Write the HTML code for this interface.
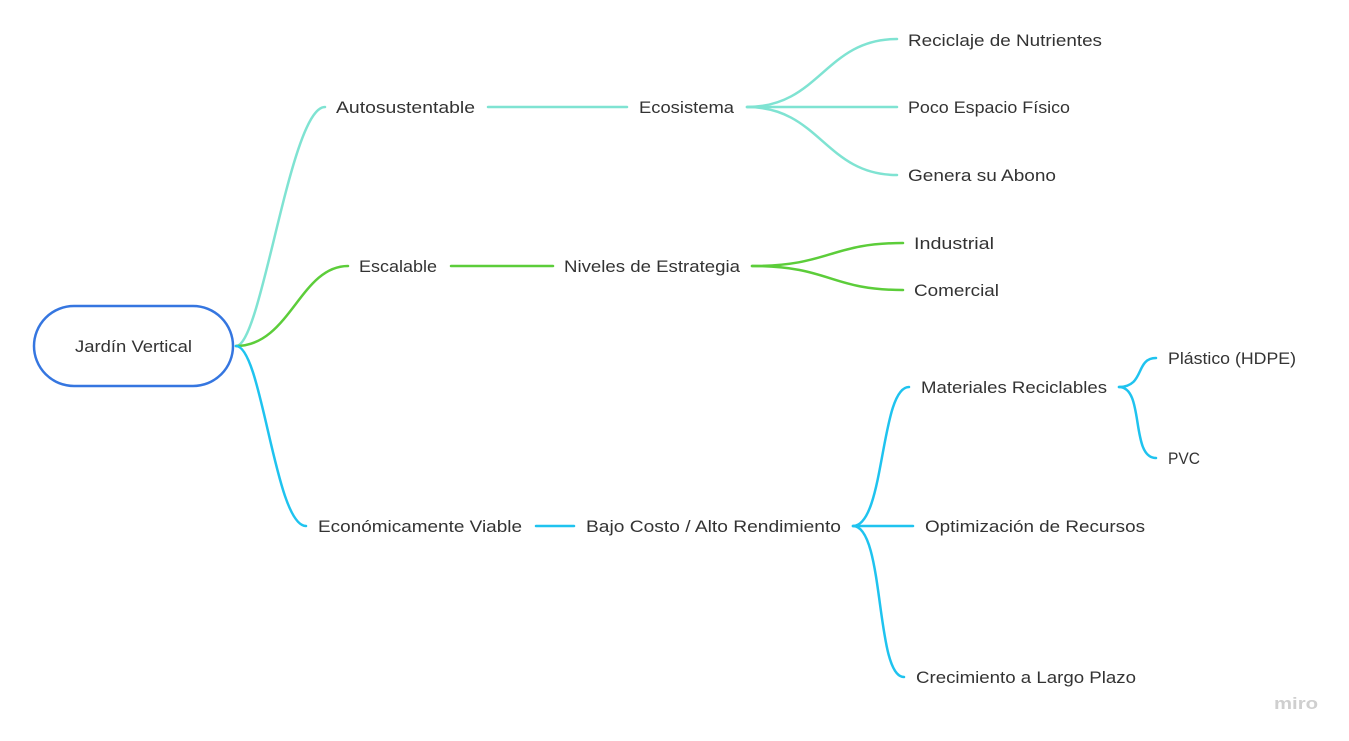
<!DOCTYPE html>
<html><head><meta charset="utf-8"><style>
html,body{margin:0;padding:0;background:#fff;}
svg{display:block;}
text{font-family:"Liberation Sans",sans-serif;font-size:17px;fill:#333;}
</style></head><body>
<svg width="1349" height="741" viewBox="0 0 1349 741" xmlns="http://www.w3.org/2000/svg">
<g fill="none" stroke-width="2.5" stroke-linecap="round">
<g stroke="#7fe3d2">
<path d="M236,346 C262,346 290,107 325,107"/>
<path d="M488,107 L627,107"/>
<path d="M747,107 C820,107 825,39 897,39"/>
<path d="M747,107 L897,107"/>
<path d="M747,107 C820,107 825,175 897,175"/>
</g>
<g stroke="#5ccd3a">
<path d="M236,346 C290,346 300,266 348,266"/>
<path d="M451,266 L553,266"/>
<path d="M752,266 C830,266 830,243 903,243"/>
<path d="M752,266 C830,266 830,290 903,290"/>
</g>
<g stroke="#1fc3ef">
<path d="M236,346 C262,346 275,526 306,526"/>
<path d="M536,526 L574,526"/>
<path d="M853,526 C885,526 880,387 909,387"/>
<path d="M853,526 L913,526"/>
<path d="M853,526 C885,526 875,677 904,677"/>
<path d="M1119,387 C1145,387 1135,358 1156,358"/>
<path d="M1119,387 C1145,387 1130,458 1156,458"/>
</g>
</g>
<rect x="34" y="306" width="199" height="80" rx="40" fill="#fff" stroke="#3576e0" stroke-width="2.5"/>
<text x="75" y="352" textLength="117" lengthAdjust="spacingAndGlyphs">Jardín Vertical</text>
<text x="336" y="113" textLength="139" lengthAdjust="spacingAndGlyphs">Autosustentable</text>
<text x="639" y="113" textLength="95" lengthAdjust="spacingAndGlyphs">Ecosistema</text>
<text x="908" y="46" textLength="194" lengthAdjust="spacingAndGlyphs">Reciclaje de Nutrientes</text>
<text x="908" y="113" textLength="162" lengthAdjust="spacingAndGlyphs">Poco Espacio Físico</text>
<text x="908" y="181" textLength="148" lengthAdjust="spacingAndGlyphs">Genera su Abono</text>
<text x="359" y="272" textLength="78" lengthAdjust="spacingAndGlyphs">Escalable</text>
<text x="564" y="272" textLength="176" lengthAdjust="spacingAndGlyphs">Niveles de Estrategia</text>
<text x="914" y="249" textLength="80" lengthAdjust="spacingAndGlyphs">Industrial</text>
<text x="914" y="296" textLength="85" lengthAdjust="spacingAndGlyphs">Comercial</text>
<text x="318" y="532" textLength="204" lengthAdjust="spacingAndGlyphs">Económicamente Viable</text>
<text x="586" y="532" textLength="255" lengthAdjust="spacingAndGlyphs">Bajo Costo / Alto Rendimiento</text>
<text x="921" y="393" textLength="186" lengthAdjust="spacingAndGlyphs">Materiales Reciclables</text>
<text x="925" y="532" textLength="220" lengthAdjust="spacingAndGlyphs">Optimización de Recursos</text>
<text x="916" y="683" textLength="220" lengthAdjust="spacingAndGlyphs">Crecimiento a Largo Plazo</text>
<text x="1168" y="364" textLength="128" lengthAdjust="spacingAndGlyphs">Plástico (HDPE)</text>
<text x="1168" y="464" textLength="32" lengthAdjust="spacingAndGlyphs">PVC</text>
<text x="1274" y="709" textLength="44" lengthAdjust="spacingAndGlyphs" style="fill:#cfcfcf;font-size:17px;font-weight:bold;">miro</text>
</svg>
</body></html>
